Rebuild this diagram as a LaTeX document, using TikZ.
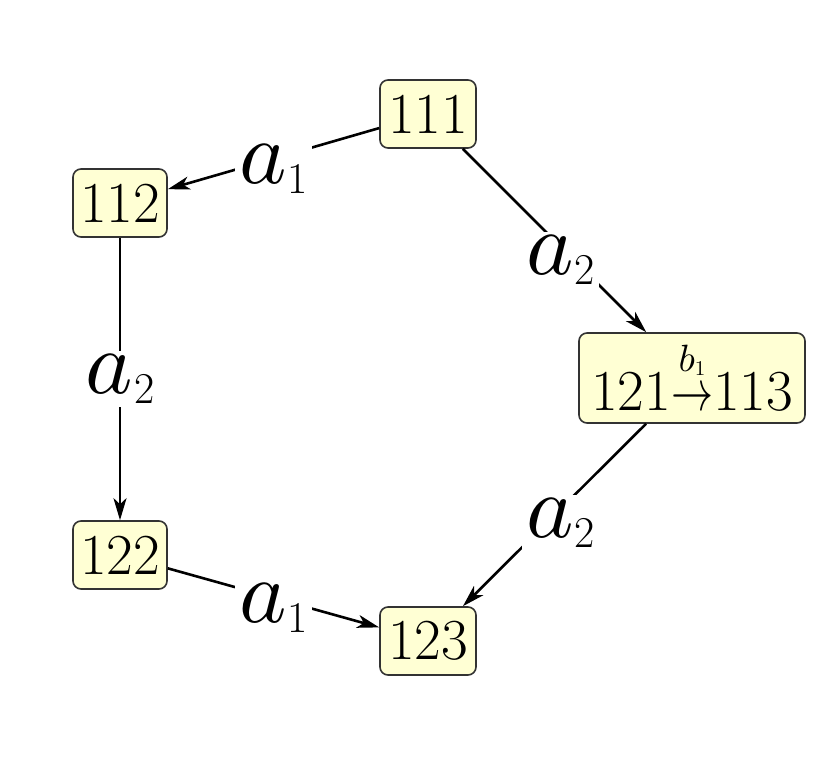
\documentclass[tikz,border=0pt]{standalone}
\usepackage{graphicx}
\usetikzlibrary{arrows.meta}
\definecolor{boxfill}{RGB}{255,255,212}
\newcommand\lbl[2]{{\normalsize\scalebox{4.5}{$#1$}}\kern0.5pt\raisebox{-5pt}{\fontsize{22}{22}\selectfont #2}}
\newcommand\barrow{\raisebox{0pt}[9pt][0pt]{\normalsize\scalebox{2.1}[2.9]{$\rightarrow$}}\hspace{-21pt}\makebox[21pt][c]{\raisebox{19.5pt}{\normalsize\scalebox{1.9}{$b$}\raisebox{-2pt}{\fontsize{10.5}{10.5}\selectfont 1}}}}
\begin{document}
\begin{tikzpicture}[x=0.5pt,y=-0.5pt,
 state/.style={draw=black!80, line width=0.8pt, fill=boxfill, rounded corners=4pt,
   font=\fontsize{29}{29}\selectfont, inner sep=0pt, minimum height=34pt},
 edge/.style={line width=1.3pt, -{Stealth[length=11pt,width=6.5pt,inset=3pt]}},
 lab/.style={fill=white, inner sep=2pt}]
\useasboundingbox (0,0) rectangle (813,758);
\node[state, minimum width=48pt] (n111) at (428,114) {111};
\node[state, minimum width=47pt] (n112) at (120,203) {112};
\node[state, minimum width=113pt, minimum height=45pt] (m) at (692,378) {121\barrow113};
\node[state, minimum width=47pt] (n122) at (120,555) {122};
\node[state, minimum width=48pt] (n123) at (428,641) {123};
\draw[edge] (n111) -- node[lab, yshift=-5pt] {\lbl{a}{1}} (n112);
\draw[edge] (n111) -- node[lab, xshift=3pt, yshift=-10pt] {\lbl{a}{2}} (m);
\draw[edge] (n112) -- node[lab] {\lbl{a}{2}} (n122);
\draw[edge] (m) -- node[lab, xshift=3pt, yshift=-4pt] {\lbl{a}{2}} (n123);
\draw[edge] (n122) -- node[lab, yshift=-5pt] {\lbl{a}{1}} (n123);
\end{tikzpicture}
\end{document}
